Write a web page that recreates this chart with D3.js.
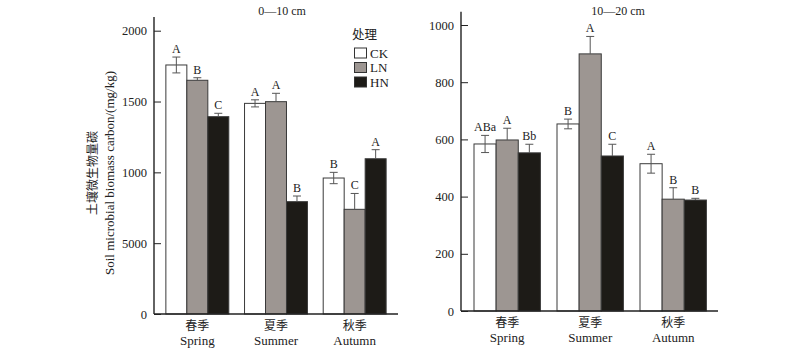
<!DOCTYPE html>
<html><head><meta charset="utf-8">
<script src="https://cdn.jsdelivr.net/npm/d3@7"></script>
<style>body{margin:0;background:#fff}svg{display:block}</style>
</head><body><svg id="c" width="800" height="352"></svg>
<script>
const seasonsCN = ["春季","夏季","秋季"];
const seasonsEN = ["Spring","Summer","Autumn"];
const treatments = ["CK","LN","HN"];
const colors = ["#ffffff","#9d9692","#1d1b17"];

// 0-10 cm
const top_CK = [1758, 1487, 960];
const top_LN = [1650, 1499, 739];
const top_HN = [1393, 793, 1096];
const topErr_CK = [56, 25, 40];
const topErr_LN = [18, 59, 112];
const topErr_HN = [24, 40, 64];
const topLetters = [["A","B","C"],["A","A","B"],["B","C","A"]];
const topTicks = [0, 500, 1000, 1500, 2000];
const topTickLabels = ["0","5000","1000","1500","2000"];

// 10-20 cm
const sub_CK = [584, 654, 515];
const sub_LN = [598, 899, 391];
const sub_HN = [553, 542, 388];
const subErr_CK = [30, 17, 33];
const subErr_LN = [41, 61, 40];
const subErr_HN = [30, 41, 6];
const subLetters = [["ABa","A","Bb"],["B","A","C"],["A","B","B"]];
const subTicks = [0, 200, 400, 600, 800, 1000];
const subTickLabels = ["0","200","400","600","800","1000"];

const svg = d3.select("#c");
const serif = "'Liberation Serif','Times New Roman',serif";
const cjk = "'Noto Sans CJK SC',sans-serif";

function panel(cfg){
  const g = svg.append("g");
  const y = d3.scaleLinear().domain(cfg.domain).range([cfg.y0, cfg.y1]);
  const x0 = d3.scaleBand().domain(seasonsEN).range(cfg.xr).paddingInner(0.2).paddingOuter(0.1);
  const x1 = d3.scaleBand().domain(treatments).range([0, x0.bandwidth()]);
  const vals = [cfg.CK, cfg.LN, cfg.HN];
  const errs = [cfg.eCK, cfg.eLN, cfg.eHN];
  const data = [];
  seasonsEN.forEach((s,i)=>treatments.forEach((t,j)=>data.push({s,t,i,j,v:vals[j][i],e:errs[j][i],l:cfg.letters[i][j]})));

  g.selectAll("rect.bar").data(data).join("rect")
    .attr("x", d=>x0(d.s)+x1(d.t)).attr("width", x1.bandwidth())
    .attr("y", d=>y(d.v)).attr("height", d=>y(0)-y(d.v))
    .attr("fill", d=>colors[d.j]).attr("stroke","#3a3a3a").attr("stroke-width",1);

  const eb = g.selectAll("g.err").data(data).join("g").attr("stroke","#555").attr("stroke-width",1);
  eb.append("line")
    .attr("x1", d=>x0(d.s)+x1(d.t)+x1.bandwidth()/2).attr("x2", d=>x0(d.s)+x1(d.t)+x1.bandwidth()/2)
    .attr("y1", d=>d.j===0 ? y(d.v-d.e) : y(d.v)).attr("y2", d=>y(d.v+d.e));
  eb.append("line")
    .attr("x1", d=>x0(d.s)+x1(d.t)+x1.bandwidth()/2-4).attr("x2", d=>x0(d.s)+x1(d.t)+x1.bandwidth()/2+4)
    .attr("y1", d=>y(d.v+d.e)).attr("y2", d=>y(d.v+d.e));
  eb.filter(d=>d.j===0).append("line")
    .attr("x1", d=>x0(d.s)+x1(d.t)+x1.bandwidth()/2-4).attr("x2", d=>x0(d.s)+x1(d.t)+x1.bandwidth()/2+4)
    .attr("y1", d=>y(d.v-d.e)).attr("y2", d=>y(d.v-d.e));

  g.selectAll("text.lt").data(data).join("text")
    .attr("x", d=>x0(d.s)+x1(d.t)+x1.bandwidth()/2).attr("y", d=>y(d.v+d.e)-4)
    .attr("text-anchor","middle").attr("font-family",serif).attr("font-size",12).attr("fill","#222")
    .text(d=>d.l);

  const ax = g.append("g").attr("transform",`translate(${cfg.ax},0)`)
    .call(d3.axisLeft(y).tickValues(cfg.ticks).tickFormat((d,i)=>cfg.tickLabels[i]).tickSizeInner(-7).tickSizeOuter(0).tickPadding(7));
  ax.select(".domain").remove();
  ax.selectAll("text").attr("font-family",serif).attr("font-size",12.5).attr("fill","#222");
  ax.selectAll("line").attr("stroke","#222");
  g.append("line").attr("x1",cfg.ax).attr("x2",cfg.ax).attr("y1",cfg.axTop).attr("y2",y(0)).attr("stroke","#222").attr("stroke-width",1.4);
  g.append("line").attr("x1",cfg.ax).attr("x2",cfg.axRight).attr("y1",y(0)).attr("y2",y(0)).attr("stroke","#222").attr("stroke-width",1.4);

  seasonsEN.forEach((s,i)=>{
    const cx = x0(s)+x0.bandwidth()/2;
    g.append("text").attr("x",cx).attr("y",y(0)+16).attr("text-anchor","middle")
      .attr("font-family",cjk).attr("font-size",12).attr("fill","#222").text(seasonsCN[i]);
    g.append("text").attr("x",cx).attr("y",y(0)+31).attr("text-anchor","middle")
      .attr("font-family",serif).attr("font-size",13).attr("fill","#222").text(s);
  });
  g.append("text").attr("x",cfg.titleX).attr("y",15).attr("text-anchor","middle")
    .attr("font-family",serif).attr("font-size",12).attr("fill","#222").text(cfg.title);
}

panel({domain:[0,2000], y0:314, y1:30.7, xr:[158,394], ax:154, axTop:17, axRight:398,
  CK:top_CK, LN:top_LN, HN:top_HN, eCK:topErr_CK, eLN:topErr_LN, eHN:topErr_HN,
  letters:topLetters, ticks:topTicks, tickLabels:topTickLabels, title:"0—10 cm", titleX:282});
panel({domain:[0,1000], y0:311, y1:25, xr:[465.7,714.7], ax:461, axTop:11.7, axRight:718,
  CK:sub_CK, LN:sub_LN, HN:sub_HN, eCK:subErr_CK, eLN:subErr_LN, eHN:subErr_HN,
  letters:subLetters, ticks:subTicks, tickLabels:subTickLabels, title:"10—20 cm", titleX:618});

// y label
svg.append("text").attr("transform","translate(97,173) rotate(-90)").attr("text-anchor","middle")
  .attr("font-family",cjk).attr("font-size",12).attr("fill","#222").text("土壤微生物量碳");
svg.append("text").attr("transform","translate(114,173) rotate(-90)").attr("text-anchor","middle")
  .attr("font-family",serif).attr("font-size",13).attr("fill","#222").text("Soil microbial biomass carbon/(mg/kg)");

// legend
const lg = svg.append("g");
lg.append("text").attr("x",352).attr("y",39).attr("font-family",cjk).attr("font-size",12.5).attr("fill","#222").text("处理");
treatments.forEach((t,i)=>{
  lg.append("rect").attr("x",354.5).attr("y",48+i*14.5).attr("width",12).attr("height",10)
    .attr("fill",colors[i]).attr("stroke","#333").attr("stroke-width",1);
  lg.append("text").attr("x",370).attr("y",57.5+i*14.5).attr("font-family",serif).attr("font-size",13).attr("fill","#222").text(t);
});
</script></body></html>
